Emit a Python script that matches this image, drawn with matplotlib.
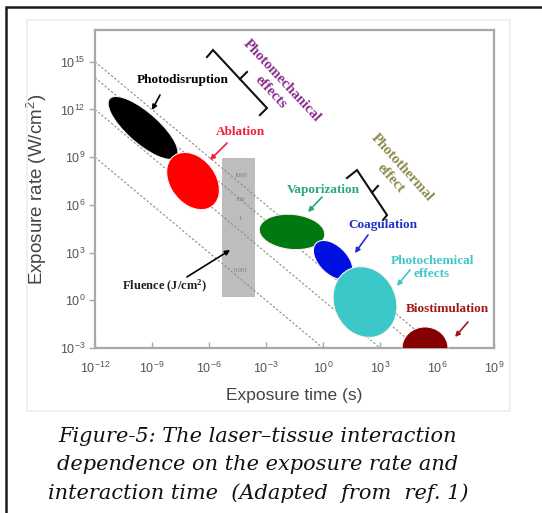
import matplotlib
matplotlib.use("Agg")
import matplotlib.pyplot as plt
from matplotlib.patches import Ellipse, Rectangle
import numpy as np

plt.rcParams['font.family'] = ['Liberation Sans', 'DejaVu Sans']
plt.rcParams['mathtext.default'] = 'regular'

# interaction regions, positions in log10 units (time in s, rate in W/cm^2)
regions = ["Photodisruption", "Ablation", "Vaporization", "Coagulation",
           "Photochemical\neffects", "Biostimulation"]
time_exp = [-9.47, -6.84, -1.63, 0.53, 2.21, 5.37]
rate_exp = [10.84, 7.50, 4.30, 2.53, -0.11, -3.0]
width_dec = [5.1, 3.8, 3.47, 2.8, 4.5, 2.42]
height_dec = [1.8, 2.5, 2.2, 1.6, 3.3, 2.65]
tilt_deg = [-47.7, -65, -8, -55, -78, 0]
region_colors = ["#000000", "#ff0000", "#007a10", "#0010e0", "#3cc8c8", "#850000"]
label_colors = ["#000000", "#f0203a", "#2aa878", "#2030c8", "#40c8c8", "#a01818"]

# label text position and arrow (tail, head), log10 units
label_xy = [(-7.37, 13.86), (-4.37, 10.58), (0.0, 6.94), (3.16, 4.74),
            (5.74, 2.07), (6.53, -0.55)]
arrow_tail = [(-8.58, 12.91), (-5.05, 9.89), (-0.05, 6.50), (2.37, 4.11),
              (4.58, 1.91), (7.63, -1.36)]
arrow_head = [(-9.0, 11.97), (-5.95, 8.82), (-0.79, 5.55), (1.68, 2.97),
              (3.89, 0.90), (6.95, -2.31)]

# constant fluence lines (J/cm^2)
fluence = [1000, 100, 1, 0.001]
fluence_labels = ["1000", "100", "1", "0.001"]

# fluence band
band_time = [-5.3, -3.6]
band_rate = [0.2, 8.95]

xticks = [-12, -9, -6, -3, 0, 3, 6, 9]
yticks = [-3, 0, 3, 6, 9, 12, 15]

fig = plt.figure(figsize=(5.42, 5.13), dpi=100)

# outer frame and faint image border
fig.add_artist(Rectangle((6/542, -0.02), 1.2, 1 - 7/513 + 0.02,
                         transform=fig.transFigure, fill=False,
                         edgecolor="#1a1a1a", lw=1.8))
fig.add_artist(Rectangle((27/542, 1-411/513), (510-27)/542, (411-20)/513,
                         transform=fig.transFigure, fill=False,
                         edgecolor="#ededed", lw=1.2))

ax = fig.add_axes([95/542, 1-348/513, (494-95)/542, (348-30)/513])
ax.set_xlim(-12, 9)
ax.set_ylim(-3, 17)

# fluence band
ax.add_patch(Rectangle((band_time[0], band_rate[0]), band_time[1]-band_time[0],
                       band_rate[1]-band_rate[0], facecolor="#bdbdbd",
                       edgecolor="none", zorder=1))

t = np.linspace(-12, 9, 50)
for F in fluence:
    ax.plot(t, np.log10(F) - t, color="#8a8a8a", lw=0.8,
            linestyle=(0, (2, 1.8)), zorder=2)

band_mid = np.mean(band_time) + 0.1
for F, lab, dy in zip(fluence, fluence_labels, [0.5, 0.0, 0.8, 0.5]):
    ax.text(band_mid, np.log10(F) - band_mid + dy, lab, fontsize=4.5,
            color="#7a7a7a", ha="center", va="center", family="Liberation Serif",
            zorder=3)

for x, y, w, h, a, c in zip(time_exp, rate_exp, width_dec, height_dec, tilt_deg,
                            region_colors):
    ax.add_patch(Ellipse((x, y), w, h, angle=a, facecolor=c,
                         edgecolor="#fff0f0", lw=0.8, zorder=4))

serif = "Liberation Serif"
arrow_kw = dict(arrowstyle="-|>", lw=1.2, mutation_scale=7, shrinkA=0, shrinkB=0)

for name, pos, tail, head, c in zip(regions, label_xy, arrow_tail, arrow_head,
                                    label_colors):
    ax.text(pos[0], pos[1], name, color=c, fontsize=9.5, fontweight="bold",
            family=serif, ha="center", va="center", zorder=6, linespacing=1.1)
    ax.annotate("", xy=head, xytext=tail, arrowprops=dict(color=c, **arrow_kw),
                zorder=6)

# fluence label
ax.text(-8.32, 0.84, "Fluence (J/cm$^2$)", fontsize=9, fontweight="bold",
        family=serif, ha="center", va="center", color="#202020", zorder=6)
ax.annotate("", xy=(-4.89, 3.16), xytext=(-7.16, 1.47),
            arrowprops=dict(color="black", **arrow_kw), zorder=6)

# effect groups with brackets
ax.text(-2.45, 13.45, "Photomechanical\neffects", rotation=-47, fontsize=10.5,
        fontweight="bold", family=serif, color="#8a2a8e", ha="center",
        va="center", linespacing=1.3, rotation_mode="anchor", zorder=6)
ax.text(3.85, 8.0, "Photothermal\neffect", rotation=-48, fontsize=10.5,
        fontweight="bold", family=serif, color="#8c8a4a", ha="center",
        va="center", linespacing=1.3, rotation_mode="anchor", zorder=6)

brackets = [
    ([-6.105, -5.79, -2.95, -3.32], [15.30, 15.74, 12.09, 11.65],
     (-4.37, 13.92), (-4.0, 14.36)),
    ([1.26, 1.79, 3.37, 3.16], [7.69, 8.19, 5.36, 5.05],
     (2.58, 6.78), (2.89, 7.19)),
]
for bx, by, m0, m1 in brackets:
    ax.plot(bx, by, color="#111111", lw=1.5, zorder=6, solid_joinstyle="miter")
    ax.plot([m0[0], m1[0]], [m0[1], m1[1]], color="#111111", lw=1.5, zorder=6)

# axes styling
spine_col = "#a8a8a8"
for s in ax.spines.values():
    s.set_color(spine_col)
    s.set_linewidth(1.6)
ax.set_xticks(xticks)
ax.set_yticks(yticks)
ax.set_xticklabels([f"$10^{{{v}}}$" for v in xticks])
ax.set_yticklabels([f"$10^{{{v}}}$" for v in yticks])
ax.tick_params(axis="x", direction="in", length=4, width=1, color=spine_col,
               labelsize=9, labelcolor="#555555", pad=9)
ax.tick_params(axis="y", direction="out", length=4, width=1, color=spine_col,
               labelsize=9, labelcolor="#555555", pad=3)
ax.set_xlabel("Exposure time (s)", fontsize=12.5, color="#444444", labelpad=9)
ax.set_ylabel("Exposure rate (W/cm$^2$)", fontsize=13.5, color="#444444",
              labelpad=8)

caption = ["Figure-5: The laser\u2013tissue interaction",
           "dependence on the exposure rate and",
           "interaction time  (Adapted  from  ref. 1)"]
for i, line in enumerate(caption):
    fig.text(258/542, 1 - (436 + 28.5*i)/513, line, fontsize=15,
             family="DejaVu Serif", style="italic", ha="center", va="center",
             color="#111111")

plt.savefig("out.png", dpi=100)
